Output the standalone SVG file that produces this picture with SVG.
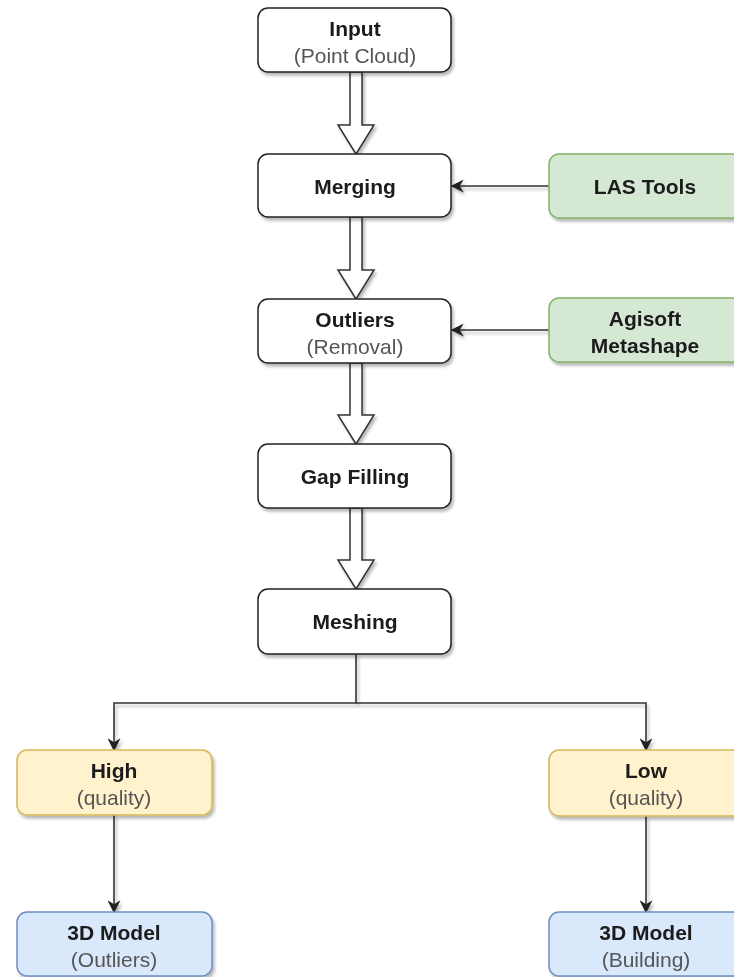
<svg xmlns="http://www.w3.org/2000/svg" width="734" height="977" viewBox="0 0 734 977">
  <defs>
    <filter id="sh" x="-10%" y="-10%" width="130%" height="140%">
      <feDropShadow dx="2" dy="3" stdDeviation="1.6" flood-color="#000" flood-opacity="0.28"/>
    </filter>
    <marker id="arr" viewBox="0 0 10 10" refX="9" refY="5" markerWidth="14" markerHeight="13" markerUnits="userSpaceOnUse" orient="auto">
      <path d="M0,0 L10,5 L0,10 L3,5 Z" fill="#222"/>
    </marker>
    <style>
      .box { fill: #ffffff; stroke: #222; stroke-width: 1.5; }
      .green { fill: #d5e8d4; stroke: #82b366; stroke-width: 1.5; }
      .yellow { fill: #fff2cc; stroke: #d6b656; stroke-width: 1.5; }
      .blue { fill: #dae8fc; stroke: #6c8ebf; stroke-width: 1.5; }
      .t { font-family: "Liberation Sans", Arial, sans-serif; font-size: 21px; font-weight: bold; fill: #1a1a1a; text-anchor: middle; }
      .s { font-family: "Liberation Sans", Arial, sans-serif; font-size: 21px; fill: #555; text-anchor: middle; }
      .line { fill: none; stroke: #333; stroke-width: 1.6; }
      .block { fill: #ffffff; stroke: #333; stroke-width: 1.5; stroke-linejoin: miter; }
      .node, .edges { filter: url(#sh); }
    </style>
  </defs>
  <rect width="734" height="977" fill="#ffffff"/>

  <g id="connectors" class="edges">
    <path class="block" d="M350,72 L350,125 L338,125 L356,154 L374,125 L362,125 L362,72 Z"/>
    <path class="block" d="M350,217 L350,270 L338,270 L356,299 L374,270 L362,270 L362,217 Z"/>
    <path class="block" d="M350,363 L350,415 L338,415 L356,444 L374,415 L362,415 L362,363 Z"/>
    <path class="block" d="M350,508 L350,560 L338,560 L356,589 L374,560 L362,560 L362,508 Z"/>
    <path class="line" d="M549,186 L452,186" marker-end="url(#arr)"/>
    <path class="line" d="M549,330 L452,330" marker-end="url(#arr)"/>
    <path class="line" d="M356,654 L356,703 L114,703 L114,750" marker-end="url(#arr)"/>
    <path class="line" d="M356,703 L646,703 L646,750" marker-end="url(#arr)"/>
    <path class="line" d="M114,815 L114,912" marker-end="url(#arr)"/>
    <path class="line" d="M646,816 L646,912" marker-end="url(#arr)"/>
  </g>

  <g id="input" class="node">
    <rect class="box" x="258" y="8" width="193" height="64" rx="10"/>
    <text class="t" x="355" y="36">Input</text>
    <text class="s" x="355" y="63">(Point Cloud)</text>
  </g>
  <g id="merging" class="node">
    <rect class="box" x="258" y="154" width="193" height="63" rx="10"/>
    <text class="t" x="355" y="194">Merging</text>
  </g>
  <g id="outliers" class="node">
    <rect class="box" x="258" y="299" width="193" height="64" rx="10"/>
    <text class="t" x="355" y="327">Outliers</text>
    <text class="s" x="355" y="354">(Removal)</text>
  </g>
  <g id="gapfilling" class="node">
    <rect class="box" x="258" y="444" width="193" height="64" rx="10"/>
    <text class="t" x="355" y="484">Gap Filling</text>
  </g>
  <g id="meshing" class="node">
    <rect class="box" x="258" y="589" width="193" height="65" rx="10"/>
    <text class="t" x="355" y="629">Meshing</text>
  </g>

  <g id="lastools" class="node">
    <rect class="green" x="549" y="154" width="193" height="64" rx="10"/>
    <text class="t" x="645" y="194">LAS Tools</text>
  </g>
  <g id="agisoft" class="node">
    <rect class="green" x="549" y="298" width="193" height="64" rx="10"/>
    <text class="t" x="645" y="326">Agisoft</text>
    <text class="t" x="645" y="353">Metashape</text>
  </g>

  <g id="high" class="node">
    <rect class="yellow" x="17" y="750" width="195" height="65" rx="10"/>
    <text class="t" x="114" y="778">High</text>
    <text class="s" x="114" y="805">(quality)</text>
  </g>
  <g id="low" class="node">
    <rect class="yellow" x="549" y="750" width="195" height="66" rx="10"/>
    <text class="t" x="646" y="778">Low</text>
    <text class="s" x="646" y="805">(quality)</text>
  </g>

  <g id="model-outliers" class="node">
    <rect class="blue" x="17" y="912" width="195" height="64" rx="10"/>
    <text class="t" x="114" y="940">3D Model</text>
    <text class="s" x="114" y="967">(Outliers)</text>
  </g>
  <g id="model-building" class="node">
    <rect class="blue" x="549" y="912" width="195" height="64" rx="10"/>
    <text class="t" x="646" y="940">3D Model</text>
    <text class="s" x="646" y="967">(Building)</text>
  </g>
</svg>
